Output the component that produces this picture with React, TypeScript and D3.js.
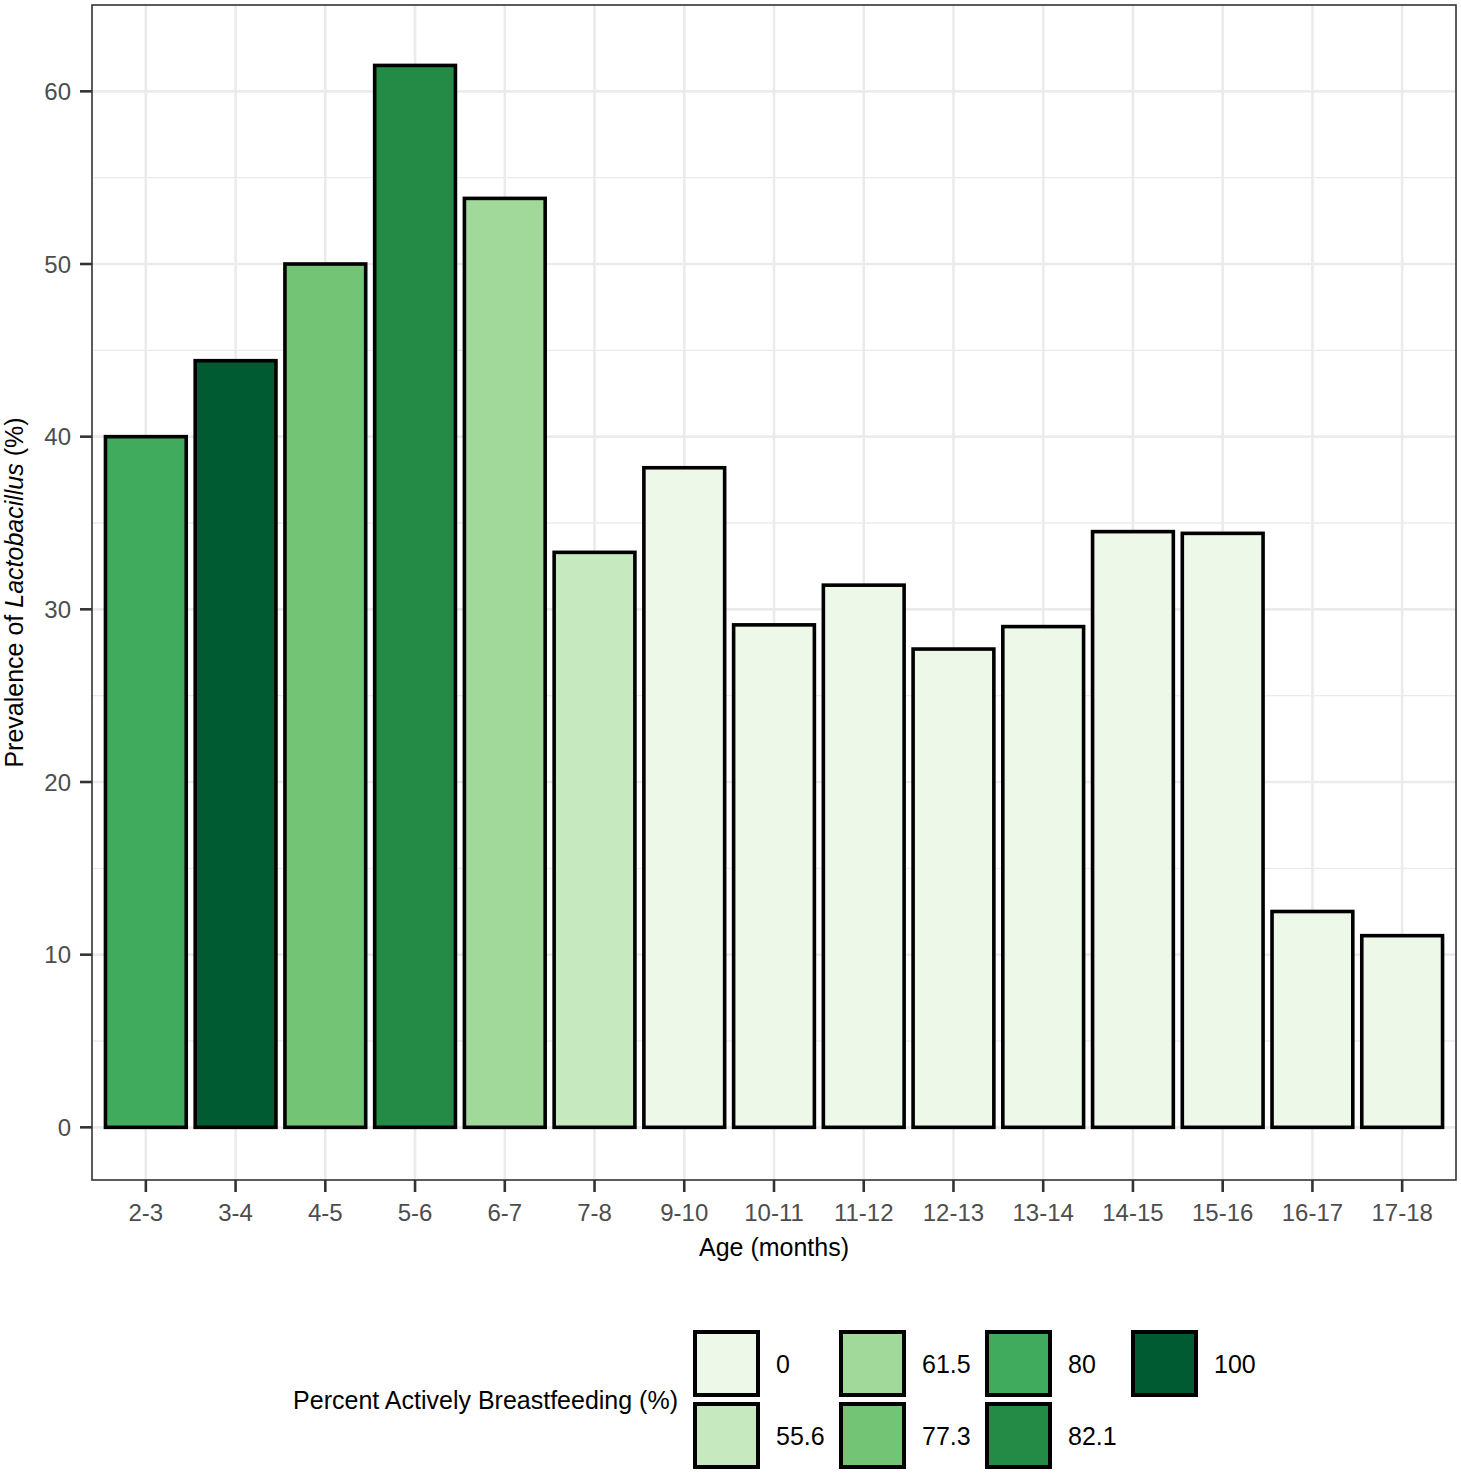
import React from "react";
import { scaleBand, scaleLinear, scaleOrdinal } from "d3";

const ages = ["2-3", "3-4", "4-5", "5-6", "6-7", "7-8", "9-10", "10-11", "11-12", "12-13", "13-14", "14-15", "15-16", "16-17", "17-18"];
const prevalence = [40.0, 44.4, 50.0, 61.5, 53.8, 33.3, 38.2, 29.1, 31.4, 27.7, 29.0, 34.5, 34.4, 12.5, 11.1];
const breastfeeding = [80, 100, 77.3, 82.1, 61.5, 55.6, 0, 0, 0, 0, 0, 0, 0, 0, 0];
const bfLevels = [0, 55.6, 61.5, 77.3, 80, 82.1, 100];
const greens = ["#edf8e9", "#c7e9c0", "#a1d99b", "#74c476", "#41ab5d", "#238b45", "#005a32"];
const yTicks = [0, 10, 20, 30, 40, 50, 60];
const yMinor = [5, 15, 25, 35, 45, 55];

const W = 1461;
const H = 1475;
const panel = { left: 92, right: 1456, top: 5, bottom: 1180 };
const font = "'Liberation Sans', Arial, Helvetica, sans-serif";

export default function App() {
    const x = scaleBand<string>()
        .domain(ages)
        .range([panel.left, panel.right])
        .paddingInner(0.1)
        .paddingOuter(0.15);
    const y = scaleLinear().domain([-3.05, 65.0]).range([panel.bottom, panel.top]);
    const fill = scaleOrdinal<number, string>().domain(bfLevels).range(greens);
    const mid = (a: string) => (x(a) as number) + x.bandwidth() / 2;

    // legend: 2 rows, filled by column
    const legendBox = 63;
    const legendX0 = 695;
    const legendColStep = 146;
    const legendY0 = 1332;
    const legendRowStep = 72;

    return (
        <svg
            width={W}
            height={H}
            style={{ position: "absolute", left: 0, top: 0, background: "#fff" }}
            fontFamily={font}
        >
            <rect x={0} y={0} width={W} height={H} fill="#fff" />
            {/* grid */}
            {yMinor.map((t) => (
                <line key={"mn" + t} x1={panel.left} x2={panel.right} y1={y(t)} y2={y(t)} stroke="#ebebeb" strokeWidth={1.3} />
            ))}
            {yTicks.map((t) => (
                <line key={"mj" + t} x1={panel.left} x2={panel.right} y1={y(t)} y2={y(t)} stroke="#ebebeb" strokeWidth={2.6} />
            ))}
            {ages.map((a) => (
                <line key={"vx" + a} x1={mid(a)} x2={mid(a)} y1={panel.top} y2={panel.bottom} stroke="#ebebeb" strokeWidth={2.6} />
            ))}

            {/* bars */}
            {ages.map((a, i) => (
                <rect
                    key={"b" + a}
                    x={x(a)}
                    width={x.bandwidth()}
                    y={y(prevalence[i])}
                    height={y(0) - y(prevalence[i])}
                    fill={fill(breastfeeding[i])}
                    stroke="#000"
                    strokeWidth={3.6}
                />
            ))}

            {/* panel border */}
            <rect
                x={panel.left}
                y={panel.top}
                width={panel.right - panel.left}
                height={panel.bottom - panel.top}
                fill="none"
                stroke="#333"
                strokeWidth={1.6}
            />

            {/* y axis */}
            {yTicks.map((t) => (
                <g key={"yt" + t}>
                    <line x1={panel.left - 12} x2={panel.left} y1={y(t)} y2={y(t)} stroke="#333" strokeWidth={2.6} />
                    <text x={panel.left - 21} y={y(t)} dy="0.36em" textAnchor="end" fontSize={24} fill="#4d4d4d">
                        {t}
                    </text>
                </g>
            ))}

            {/* x axis */}
            {ages.map((a) => (
                <g key={"xt" + a}>
                    <line x1={mid(a)} x2={mid(a)} y1={panel.bottom} y2={panel.bottom + 12} stroke="#333" strokeWidth={2.6} />
                    <text x={mid(a)} y={1221} textAnchor="middle" fontSize={24} fill="#4d4d4d">
                        {a}
                    </text>
                </g>
            ))}

            {/* axis titles */}
            <text x={(panel.left + panel.right) / 2} y={1256} textAnchor="middle" fontSize={25} fill="#000">
                Age (months)
            </text>
            <text
                transform={`translate(23, ${(panel.top + panel.bottom) / 2}) rotate(-90)`}
                textAnchor="middle"
                fontSize={25}
                fill="#000"
            >
                Prevalence of <tspan fontStyle="italic">Lactobacillus</tspan> (%)
            </text>

            {/* legend */}
            <text x={678} y={1409} textAnchor="end" fontSize={25} fill="#000">
                Percent Actively Breastfeeding (%)
            </text>
            {bfLevels.map((lv, i) => {
                const col = Math.floor(i / 2);
                const row = i % 2;
                const bx = legendX0 + col * legendColStep;
                const by = legendY0 + row * legendRowStep;
                return (
                    <g key={"lg" + lv}>
                        <rect x={bx} y={by} width={legendBox} height={legendBox} fill={fill(lv)} stroke="#000" strokeWidth={4} />
                        <text x={bx + legendBox + 18} y={by + legendBox / 2} dy="0.36em" fontSize={25} fill="#000">
                            {lv}
                        </text>
                    </g>
                );
            })}
        </svg>
    );
}
